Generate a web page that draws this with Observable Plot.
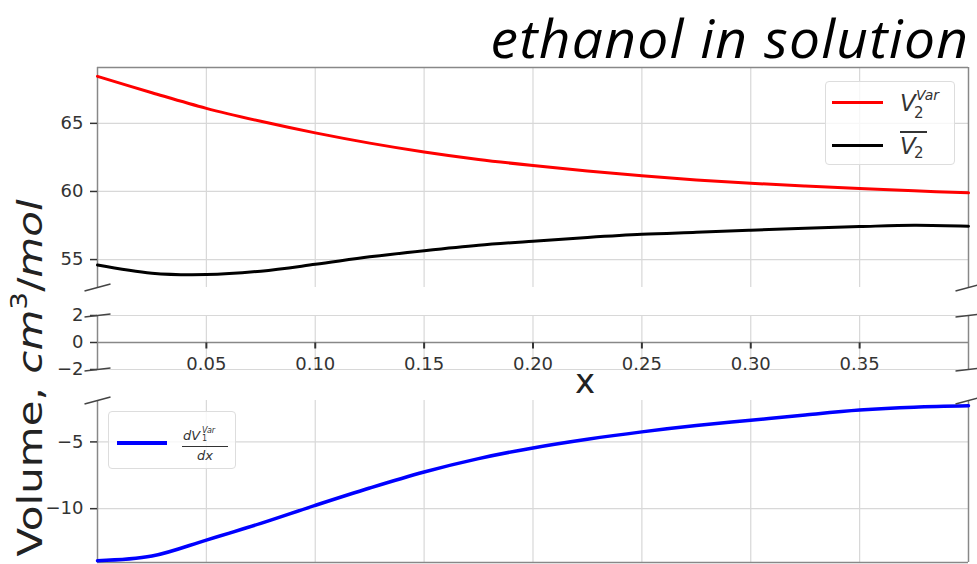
<!DOCTYPE html>
<html><head><meta charset="utf-8">
<script src="https://cdn.jsdelivr.net/npm/d3@7"></script>
<script src="https://cdn.jsdelivr.net/npm/@observablehq/plot@0.6"></script>
<style>
body{margin:0;background:#fff;}
#wrap{position:relative;width:977px;height:564px;overflow:hidden;font-family:"DejaVu Sans",sans-serif;color:#333;}
#wrap svg{position:absolute;left:0;overflow:visible;}
.abs{position:absolute;line-height:1;white-space:nowrap;}
.it{font-style:italic;}
#title{position:absolute;right:8px;top:0.5px;font-family:"Open Sans",sans-serif;font-style:italic;font-size:53px;line-height:normal;letter-spacing:1.2px;color:#000;white-space:nowrap;transform:scaleX(1.04);transform-origin:right center;}
#ylab{position:absolute;left:31px;top:378px;transform:translate(-50%,-50%) rotate(-90deg) scale(1,0.8);font-size:42px;white-space:nowrap;color:#222;line-height:1;}
#ylab sup{font-size:28px;vertical-align:0.7em;line-height:0;}
#xlab{position:absolute;left:585px;top:381px;transform:translate(-50%,-50%);font-size:34px;color:#222;line-height:1;}
.lgbox{position:absolute;border:1px solid #ddd;border-radius:4px;background:rgba(255,255,255,0.8);box-sizing:border-box;}
</style></head><body><div id="wrap"></div>
<script>
// ---------- data ----------
const xValues = [0, 0.025, 0.05, 0.075, 0.1, 0.125, 0.15, 0.175, 0.2, 0.225, 0.25, 0.275, 0.3, 0.325, 0.35, 0.375, 0.4];
const v2Var  = [68.45, 67.25, 66.1, 65.15, 64.3, 63.55, 62.9, 62.35, 61.9, 61.5, 61.15, 60.85, 60.6, 60.4, 60.22, 60.05, 59.9];
const v2Bar  = [54.6, 54.0, 53.9, 54.15, 54.65, 55.2, 55.65, 56.05, 56.35, 56.62, 56.85, 57.0, 57.15, 57.3, 57.42, 57.52, 57.45];
const dV1dx  = [-13.9, -13.55, -12.35, -11.1, -9.75, -8.45, -7.25, -6.25, -5.45, -4.8, -4.25, -3.78, -3.38, -2.98, -2.62, -2.4, -2.3];
const xTicks = [0.05, 0.10, 0.15, 0.20, 0.25, 0.30, 0.35];
const xTickLabels = ["0.05", "0.10", "0.15", "0.20", "0.25", "0.30", "0.35"];
const topYTicks = [55, 60, 65];
const midYTicks = [-2, 0, 2];
const botYTicks = [-10, -5];
const xDomain = [0, 0.4];
const topDomain = [52.95, 69.1];
const midDomain = [-2, 2];
const botDomain = [-14.03, -1.9];

// ---------- styles ----------
const GRID = "#d8d8d8", SPINE = "#888", TXT = "#333";
const W = 977, ML = 97, MR = 9;
const breakSym = (dy) => ({draw(ctx){ ctx.moveTo(-13, dy); ctx.lineTo(13, -dy); }});
const tickDown = {draw(ctx){ ctx.moveTo(0, 0); ctx.lineTo(0, 6); }};
const pts = (ys) => xValues.map((x, i) => ({x, y: ys[i]}));
const corners = (y) => xDomain.map(x => ({x, y}));
const baseStyle = {fontFamily: "DejaVu Sans", fontSize: "18px", background: "transparent", overflow: "visible", color: TXT};
const yAxis = (ticks) => Plot.axisY({ticks, tickSize: 7, tickPadding: 7, fontSize: 18, color: TXT, strokeWidth: 1.5, label: null,
  tickFormat: d => d < 0 ? "\u2212" + Math.abs(d) : String(d)});

const wrap = document.getElementById("wrap");
function place(svg, top){ svg.style.top = top + "px"; wrap.appendChild(svg); }

// ---------- top panel ----------
const pTop = Plot.plot({
  width: W, height: 300, marginLeft: ML, marginRight: MR, marginTop: 67, marginBottom: 13,
  x: {domain: xDomain, axis: null},
  y: {domain: topDomain},
  style: baseStyle,
  marks: [
    Plot.ruleX(xTicks, {stroke: GRID, strokeWidth: 1.2}),
    Plot.ruleY(topYTicks, {stroke: GRID, strokeWidth: 1.2}),
    Plot.ruleX(xDomain, {stroke: SPINE, strokeWidth: 1.5}),
    Plot.ruleY([topDomain[1]], {stroke: SPINE, strokeWidth: 1.5}),
    yAxis(topYTicks),
    Plot.line(pts(v2Var), {x: "x", y: "y", stroke: "#ff0000", strokeWidth: 3, curve: "catmull-rom"}),
    Plot.line(pts(v2Bar), {x: "x", y: "y", stroke: "#000000", strokeWidth: 3, curve: "catmull-rom"}),
    Plot.dot(corners(topDomain[0]), {x: "x", y: "y", symbol: breakSym(3.5), fill: "none", stroke: "#444", strokeWidth: 1.5, r: 5})
  ]
});
place(pTop, 0);

// ---------- middle panel ----------
const pMid = Plot.plot({
  width: W, height: 90, marginLeft: ML, marginRight: MR, marginTop: 15, marginBottom: 21,
  x: {domain: xDomain, axis: null},
  y: {domain: midDomain},
  style: baseStyle,
  marks: [
    Plot.ruleX(xTicks, {stroke: GRID, strokeWidth: 1.2}),
    Plot.ruleY([-2, 2], {stroke: GRID, strokeWidth: 1.2}),
    Plot.ruleX(xDomain, {stroke: SPINE, strokeWidth: 1.5}),
    Plot.ruleY([0], {stroke: SPINE, strokeWidth: 1.5}),
    yAxis(midYTicks),
    Plot.dot(xTicks, {x: d => d, y: 0, symbol: tickDown, fill: "none", stroke: TXT, strokeWidth: 2, r: 3}),
    Plot.text(xTicks, {x: d => d, y: 0, text: (d, i) => xTickLabels[i], dy: 22, fontSize: 18, fill: TXT}),
    Plot.dot(corners(midDomain[1]), {x: "x", y: "y", symbol: breakSym(1.5), fill: "none", stroke: "#444", strokeWidth: 1.5, r: 5}),
    Plot.dot(corners(midDomain[0]), {x: "x", y: "y", symbol: breakSym(1.5), fill: "none", stroke: "#444", strokeWidth: 1.5, r: 5})
  ]
});
place(pMid, 300);

// ---------- bottom panel ----------
const pBot = Plot.plot({
  width: W, height: 174, marginLeft: ML, marginRight: MR, marginTop: 10, marginBottom: 2,
  x: {domain: xDomain, axis: null},
  y: {domain: botDomain},
  style: baseStyle,
  marks: [
    Plot.ruleX(xTicks, {stroke: GRID, strokeWidth: 1.2}),
    Plot.ruleY(botYTicks, {stroke: GRID, strokeWidth: 1.2}),
    Plot.ruleX(xDomain, {stroke: SPINE, strokeWidth: 1.5}),
    Plot.ruleY([botDomain[0]], {stroke: SPINE, strokeWidth: 1.5}),
    yAxis(botYTicks),
    Plot.line(pts(dV1dx), {x: "x", y: "y", stroke: "#0000ff", strokeWidth: 3.5, curve: "catmull-rom"}),
    Plot.dot(corners(botDomain[1]), {x: "x", y: "y", symbol: breakSym(3.5), fill: "none", stroke: "#444", strokeWidth: 1.5, r: 5})
  ]
});
place(pBot, 390);

// ---------- texts & legends ----------
wrap.insertAdjacentHTML("beforeend", `
<div id="title">ethanol in solution</div>
<div id="ylab">Volume, <i>cm</i><sup>3</sup>/<i>mol</i></div>
<div id="xlab">x</div>

<div class="lgbox" style="left:825px;top:81px;width:130px;height:84px;"></div>
<div class="abs" style="left:832px;top:101px;width:51px;height:3px;background:#ff0000;"></div>
<div class="abs it" style="left:900px;top:92px;font-size:23px;">V</div>
<div class="abs it" style="left:916px;top:88px;font-size:14px;">Var</div>
<div class="abs" style="left:914px;top:106px;font-size:15px;">2</div>
<div class="abs" style="left:832px;top:143.5px;width:51px;height:3px;background:#000;"></div>
<div class="abs" style="left:900px;top:131px;width:27px;height:1.5px;background:#333;"></div>
<div class="abs it" style="left:900px;top:134.5px;font-size:23px;">V</div>
<div class="abs" style="left:914px;top:146px;font-size:15px;">2</div>

<div class="lgbox" style="left:108px;top:411px;width:128px;height:58px;"></div>
<div class="abs" style="left:117px;top:441px;width:50px;height:3.5px;background:#0000ff;"></div>
<div class="abs it" style="left:183px;top:428.5px;font-size:13px;">dV</div>
<div class="abs it" style="left:202px;top:426.5px;font-size:8px;">Var</div>
<div class="abs" style="left:202px;top:435px;font-size:8px;">1</div>
<div class="abs" style="left:182px;top:445.5px;width:46px;height:1.2px;background:#333;"></div>
<div class="abs it" style="left:197px;top:449px;font-size:13px;">dx</div>
`);
</script>
</body></html>
